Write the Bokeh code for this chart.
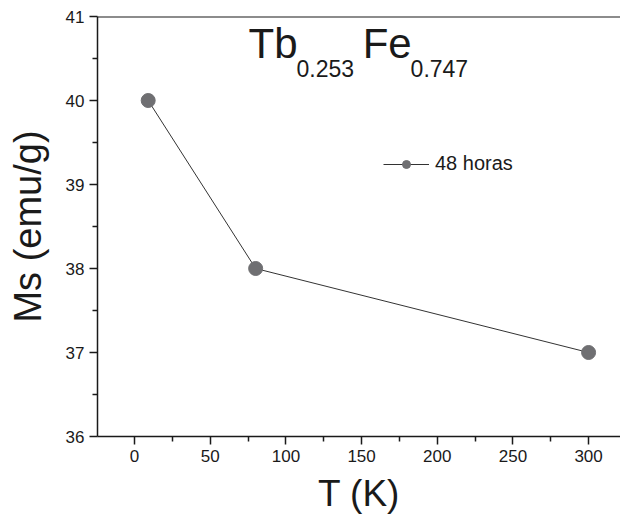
from bokeh.plotting import figure
from bokeh.models import Range1d, Span, Label, Legend, LegendItem, FixedTicker
from bokeh.embed import file_html
from bokeh.resources import INLINE

# data
temperature_K = [9, 80, 300]
ms_emu_g = [40.0, 38.0, 37.0]
series_name = "48 horas"
x_ticks = [0, 50, 100, 150, 200, 250, 300]
y_ticks = [36, 37, 38, 39, 40, 41]

FONT = "Liberation Sans"
INK = "#1a1a1a"
MARK = "#6f6f72"

p = figure(width=620, height=520, output_backend="svg", toolbar_location=None,
           x_range=Range1d(-24.5, 321.1), y_range=Range1d(36, 41),
           min_border_left=97, min_border_right=0, min_border_top=16, min_border_bottom=84)
p.outline_line_color = None
p.grid.visible = False
p.background_fill_color = "white"
p.border_fill_color = "white"

for ax in (p.xaxis[0], p.yaxis[0]):
    ax.axis_line_color = INK
    ax.axis_line_width = 1.5
    ax.major_tick_line_color = INK
    ax.minor_tick_line_color = INK
    ax.major_tick_line_width = 1.5
    ax.minor_tick_line_width = 1.5
    ax.major_tick_in = 0
    ax.minor_tick_in = 0
    ax.major_tick_out = 8
    ax.minor_tick_out = 5
    ax.major_label_text_font = FONT
    ax.major_label_text_font_size = "17px"
    ax.major_label_text_color = INK
    ax.axis_label_text_font = FONT
    ax.axis_label_text_font_style = "normal"
    ax.axis_label_text_color = INK

p.xaxis.ticker = FixedTicker(ticks=x_ticks, minor_ticks=[x - 25 for x in x_ticks] + [325])
p.yaxis.ticker = FixedTicker(ticks=y_ticks, minor_ticks=[y + 0.5 for y in y_ticks[:-1]])
p.xaxis.major_label_standoff = 5
p.yaxis.major_label_standoff = 5
p.xaxis.axis_label = "T (K)"
p.yaxis.axis_label = "Ms (emu/g)"
p.xaxis.axis_label_text_font_size = "37px"
p.yaxis.axis_label_text_font_size = "38px"
p.xaxis.axis_label_standoff = 8
p.yaxis.axis_label_standoff = 14

p.add_layout(Span(location=41, dimension="width", line_color=INK, line_width=2))

# legend proxies (small marker hidden under the big data markers)
lr = p.line(temperature_K[:1], ms_emu_g[:1], line_color="#333333", line_width=1)
sr = p.scatter(temperature_K, ms_emu_g, size=8, fill_color=MARK, line_color=MARK)

p.line(temperature_K, ms_emu_g, line_color="#333333", line_width=1)
p.scatter(temperature_K, ms_emu_g, size=14, fill_color=MARK, line_color=MARK)

legend = Legend(items=[LegendItem(label=series_name, renderers=[lr, sr])],
                location=(286, 261), glyph_width=46, glyph_height=20,
                label_standoff=6, padding=0, margin=0, spacing=0,
                border_line_color=None, background_fill_alpha=0,
                label_text_font=FONT, label_text_font_size="20px", label_text_color=INK)
p.add_layout(legend)

# title formula with subscripts
parts = [("Tb", 75.3, 40.679, "42px"), ("0.253", 107.0, 40.381, "23px"),
         ("Fe", 150.7, 40.679, "42px"), ("0.747", 182.4, 40.381, "23px")]
for txt, x, y, fs in parts:
    p.add_layout(Label(x=x, y=y, text=txt, text_font=FONT, text_font_size=fs,
                       text_color=INK, text_baseline="alphabetic", text_align="left"))

open("out.html", "w").write(file_html(p, INLINE))
